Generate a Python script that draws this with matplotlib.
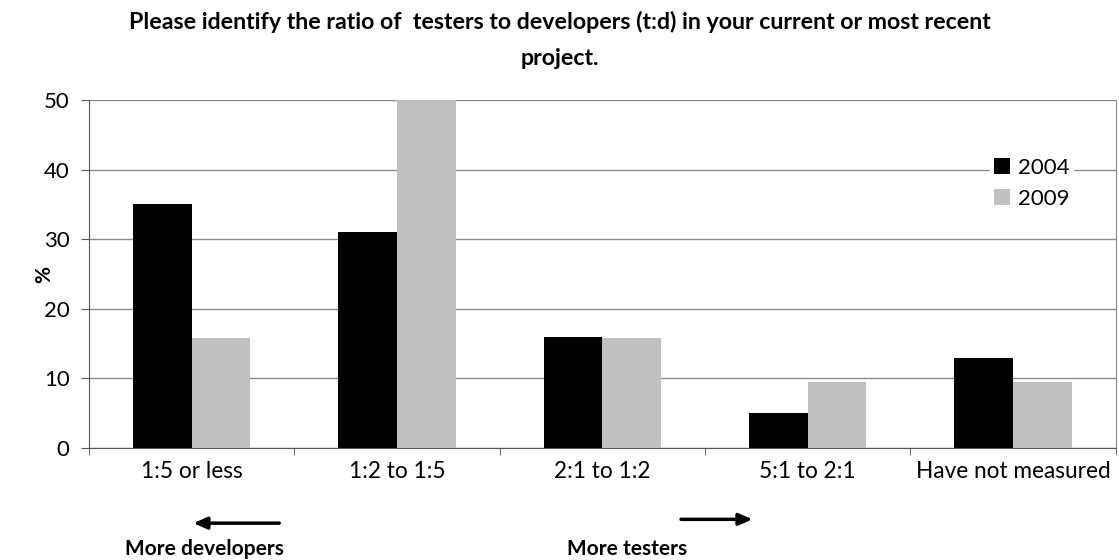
import matplotlib
matplotlib.use("Agg")
import matplotlib.pyplot as plt
import numpy as np

categories = ["1:5 or less", "1:2 to 1:5", "2:1 to 1:2", "5:1 to 2:1", "Have not measured"]
series_names = ["2004", "2009"]
values_2004 = [35, 31, 16, 5, 13]
values_2009 = [15.8, 50, 15.8, 9.5, 9.5]
y_ticks = [0, 10, 20, 30, 40, 50]

plt.rcParams['font.family'] = ['Lato', 'DejaVu Sans']

fig = plt.figure(figsize=(11.19, 5.6), dpi=100)
ax = fig.add_axes([0.0795, 0.2, 0.9175, 0.6214])

x = np.arange(len(categories))
bw = 1 / 3.5
ax.bar(x - bw / 2, values_2004, bw, color="black", label=series_names[0], zorder=3)
ax.bar(x + bw / 2, values_2009, bw, color="#c0c0c0", label=series_names[1], zorder=3)

ax.set_xlim(-0.5, len(categories) - 0.5)
ax.set_ylim(0, 50)
ax.set_yticks(y_ticks)
ax.set_yticklabels([str(t) for t in y_ticks], fontsize=16)
ax.set_xticks(x)
ax.set_xticklabels(categories, fontsize=16.3)
ax.set_xticks(np.arange(len(categories) + 1) - 0.5, minor=True)
ax.tick_params(axis="x", which="major", length=0, pad=9)
ax.tick_params(axis="x", which="minor", length=5, color="#555555", direction="out")
ax.tick_params(axis="y", length=6, color="#555555", direction="out", pad=8)

ax.yaxis.grid(True, color="#8c8c8c", linewidth=1, zorder=0)
ax.set_axisbelow(True)
ax.spines["top"].set_visible(False)
ax.spines["left"].set_color("#555555")
ax.spines["bottom"].set_color("#555555")
ax.spines["right"].set_color("#8c8c8c")

ax.set_ylabel("%", fontsize=15, fontweight="bold")
ax.yaxis.set_label_coords(-0.034, 0.5)

leg = ax.legend(loc="upper left", bbox_to_anchor=(0.867, 0.875), frameon=True,
                fontsize=16, handlelength=0.75, handleheight=0.75, handletextpad=0.35,
                labelspacing=0.5, borderpad=0.15)
leg.get_frame().set_edgecolor("white")
leg.get_frame().set_facecolor("white")
leg.get_frame().set_alpha(1)

fig.text(0.5, 0.961, "Please identify the ratio of  testers to developers (t:d) in your current or most recent",
         ha="center", va="center", fontsize=16.7, fontweight="bold")
fig.text(0.5, 0.896, "project.", ha="center", va="center", fontsize=16.7, fontweight="bold")

trans = ax.get_xaxis_transform()
ax.annotate("", xy=(-0.005, -0.216), xytext=(0.44, -0.216), xycoords=trans, textcoords=trans,
            arrowprops=dict(arrowstyle="-|>,head_length=0.8,head_width=0.35", color="black", lw=2.5),
            annotation_clip=False)
ax.annotate("", xy=(2.745, -0.205), xytext=(2.37, -0.205), xycoords=trans, textcoords=trans,
            arrowprops=dict(arrowstyle="-|>,head_length=0.8,head_width=0.35", color="black", lw=2.5),
            annotation_clip=False)
ax.text(0.06, -0.29, "More developers", transform=trans, ha="center", va="center",
        fontsize=15, fontweight="bold")
ax.text(2.12, -0.29, "More testers", transform=trans, ha="center", va="center",
        fontsize=15, fontweight="bold")

fig.savefig("out.png", dpi=100)
